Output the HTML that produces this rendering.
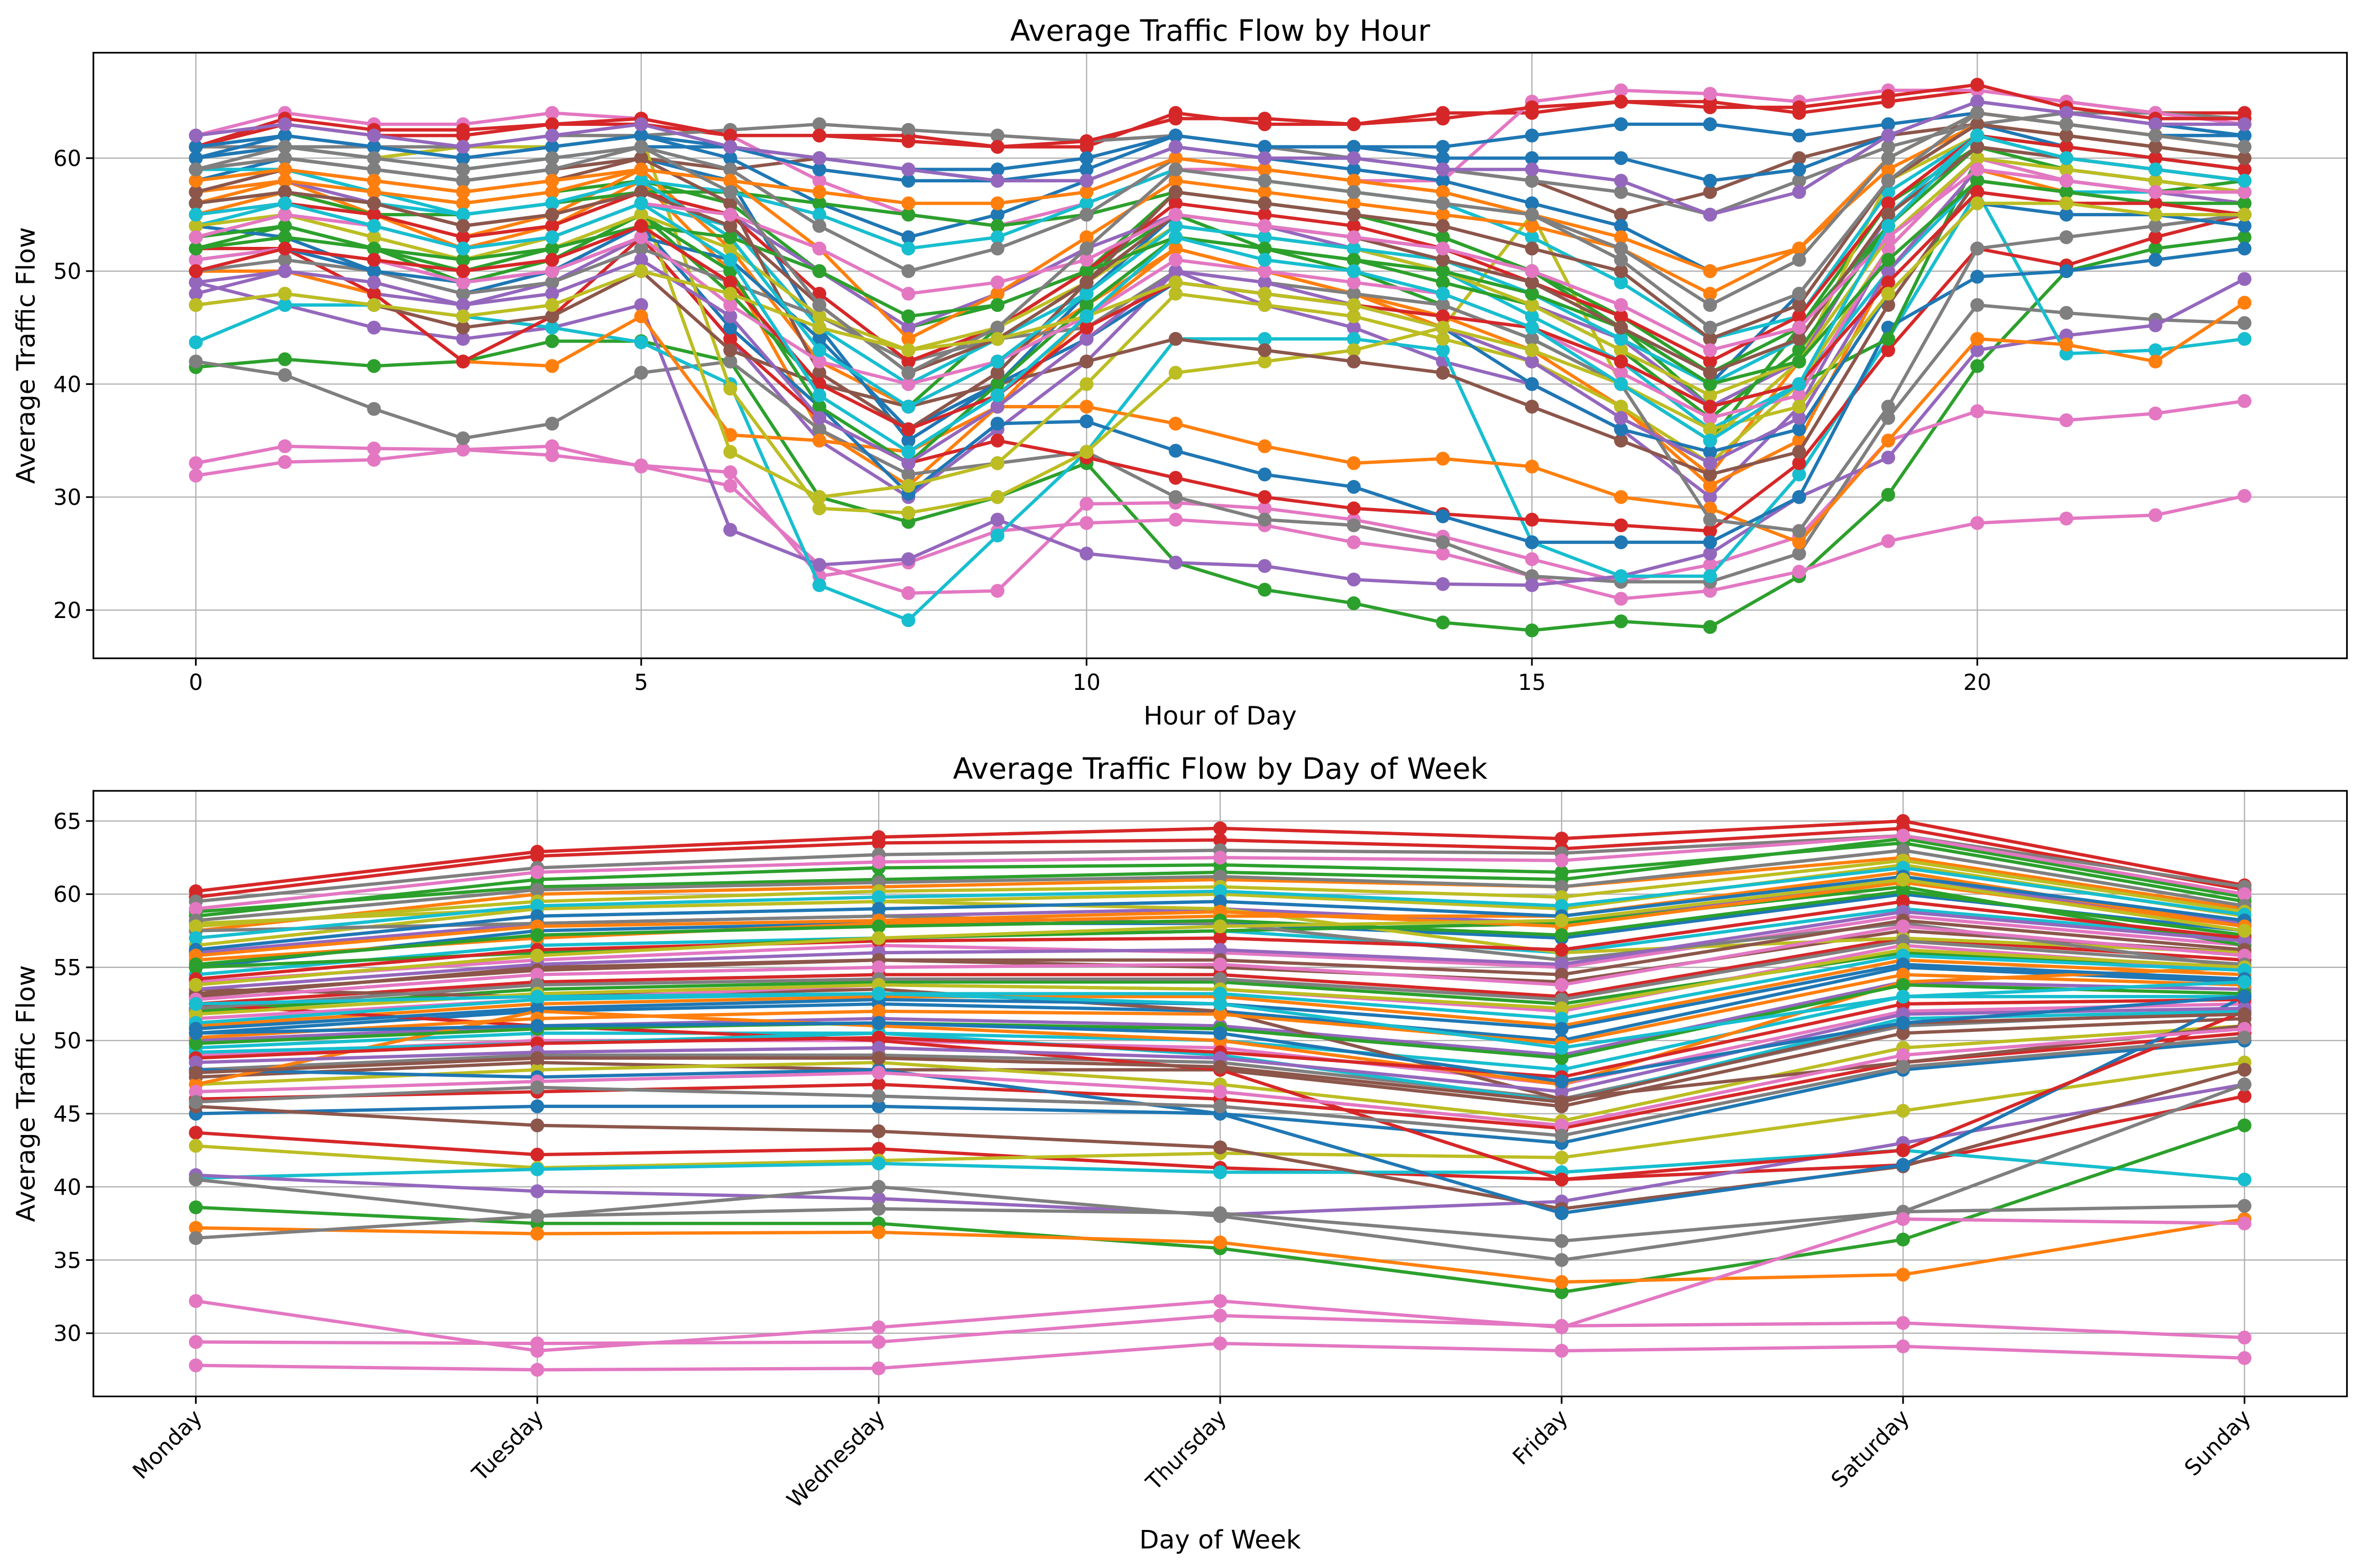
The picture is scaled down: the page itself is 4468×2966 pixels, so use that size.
<!DOCTYPE html>
<html><head><meta charset="utf-8"><style>
html,body{margin:0;padding:0;background:#fff;}
svg{display:block;font-family:"DejaVu Sans","Liberation Sans",sans-serif;}
</style></head><body>
<svg id="chart" width="4468" height="2966" viewBox="0 0 1568 1040.9" preserveAspectRatio="none" xmlns="http://www.w3.org/2000/svg">
<rect x="0" y="0" width="1568" height="1041" fill="#fff"/>
<g id="top"></g>
<g id="bot"></g>
</svg>
<script>
const hours = [0,1,2,3,4,5,6,7,8,9,10,11,12,13,14,15,16,17,18,19,20,21,22,23];
const hourTicks = [0,5,10,15,20];
const hourYTicks = [20,30,40,50,60];
const hourlySeries = [
[61,63,62,62,63,63,62,62,62,61,61,64,63,63,64,64,65,65,64,65,66,65,64,64],
[58,60,59,58,59,60,58,45,35,40,48,55,54,53,52,50,45,40,48,58,63,61,60,59],
[55,57,55,52,54,58,50,36,31,38,46,52,50,48,45,42,38,32,42,55,62,60,59,58],
[52,54,52,49,51,55,48,40,38,45,50,55,52,50,47,44,40,35,45,56,61,59,58,57],
[48,50,48,47,49,53,44,35,30,36,42,50,47,45,42,40,36,30,38,52,60,58,57,56],
[41.5,42.2,41.6,42,43.8,43.8,42,30,27.8,30,33,24.2,21.8,20.6,18.9,18.2,19,18.5,23,30.2,41.6,50,52,53],
[33,34.5,34.3,34.2,34.5,32.7,31,24,21.5,21.7,29.4,29.5,29,28,26.5,24.5,22.5,24,26.5,35,37.6,36.8,37.4,38.5],
[31.9,33.1,33.3,34.2,33.7,32.8,32.2,23,24.2,27,27.7,28,27.5,26,25,23,21,21.7,23.4,26.1,27.7,28.1,28.4,30.1],
[42,40.8,37.8,35.2,36.5,41,42,36,32,33,34,30,28,27.5,26,23,22.5,22.5,25,37,47,46.3,45.7,45.4],
[49,47,45,44,45,47,27.1,24,24.5,28,25,24.2,23.9,22.7,22.3,22.2,23,25,30,33.5,43,44.3,45.2,49.3],
[43.7,47,47,46,45,43.7,40,22.2,19.1,26.6,34,44,44,44,43,26,23,23,32,44,57,42.7,43,44],
[50,50,48,42,41.6,46,35.5,35,34,38,38,36.5,34.5,33,33.4,32.7,30,29,26,35,44,43.5,42,47.2],
[52,52,48,42,46,53,44,37,33,35,33.5,31.7,30,29,28.5,28,27.5,27,33,43,52,50.5,53,55],
[54,53,50,48,50,54,45,38,30.3,36.5,36.7,34.1,32,30.9,28.3,26,26,26,30,45,49.5,50,51,52],
[59,60,59,58,59,60,59,60,59,58,58,61,60,60,59,58,55,57,60,62,63,62,61,60],
[60,61,60,61,61,62,39.6,29,28.6,30,34,41,42,43,45,55,40,35,42,58,62,60,59,58],
[58,59,57,56,57,58,56,50,45,47,50,57,56,55,53,50,45,38,40,44,60,58,57,58],
[61,61,61,61,62,62,62.5,63,62.5,62,61.5,62,61,60,59,58,57,55,58,61,63,64,64,63.5],
[62,64,63,63,64,63.5,62,58,55,54,56,59,59,58,58,65,66,65.7,65,66,66,65,64,63],
[54,56,54,52,53,56,54,45,40,44,48,54,53,52,50,46,42,36,40,50,58,57,57,56],
[56,58,55,53,55,59,52,42,38,42,47,52,50,48,46,43,38,31,35,50,59,57,56,55],
[57,58,56,54,55,57,55,50,45,48,52,55,54,52,50,47,44,38,42,55,61,60,59,58],
[60,62,61,60,61,62,60,56,53,55,58,61,60,59,58,56,54,50,52,60,64,63,62,62],
[61,63.5,62.5,62.5,63,63.5,62,62,61.5,61,61.5,63.5,63.5,63,63.5,64.5,65,64.5,64.5,65.5,66.5,64.5,63.5,63.5],
[56,57,55,55,56,57,57,56,55,54,55,57,56,55,53,50,46,41,45,54,62,61,60,59],
[53,55,53,51,53,56,34,30,31,33,40,48,47,46,44,42,38,33,40,52,60,58,57,56],
[47,48,47,45,46,50,43,40,38,40,42,44,43,42,41,38,35,32,34,47,58,57,56,55],
[50,51,50,48,49,52,49,46,42,44,45,50,49,48,47,44,40,28,27,38,52,53,54,55],
[59,59,57,55,56,58,57,55,52,53,56,59,58,57,56,53,49,44,46,57,62,61,60,59],
[51,52,50,49,50,53,51,44,36,40,44,49,48,47,45,40,36,34,36,48,56,55,55,54],
[60,61,60,59,60,61,61,60,59,59,60,62,61,61,61,62,63,63,62,63,64,63,62,62],
[57,58,57,56,57,59,58,52,44,48,53,58,57,56,55,54,52,48,52,59,63,62,61,60],
[53,54,52,50,52,55,50,38,33,40,47,53,52,51,49,47,43,37,43,54,61,59,58,57],
[55,56,55,53,54,57,55,48,42,45,50,56,55,54,52,49,46,42,46,56,62,61,60,59],
[49,50,49,47,48,51,46,37,33,38,44,50,49,47,45,42,37,33,37,50,59,58,57,56],
[57,59,58,57,58,60,56,41,36,41,49,57,56,55,54,52,50,44,47,58,63,62,61,60],
[51,52,51,49,50,53,47,42,40,42,46,51,50,49,48,45,41,37,39,52,60,58,57,57],
[59,60,59,58,59,61,59,54,50,52,55,60,59,58,57,55,51,45,48,58,64,63,62,61],
[54,55,53,51,52,55,52,46,43,45,49,54,53,52,50,47,43,39,42,53,60,59,58,57],
[56,57,56,55,56,58,53,43,38,42,48,54,53,52,51,48,44,40,44,55,62,60,59,58],
[61,62,61,60,61,62,61,59,58,58,59,62,61,61,60,60,60,58,59,62,65,64,63,62],
[58,59,58,57,58,59,58,57,56,56,57,60,59,58,57,55,53,50,52,60,64,63,62,61],
[52,53,52,51,52,54,53,50,46,47,50,53,52,51,50,48,45,40,42,51,58,57,56,56],
[50,52,51,50,51,54,49,40,36,39,45,49,48,47,46,45,42,38,40,49,57,56,56,55],
[62,63,62,61,62,63,61,60,59,58,58,61,60,60,59,59,58,55,57,62,65,64,63,63],
[56,57,56,54,55,57,54,47,41,44,49,55,54,53,51,49,45,41,44,55,61,60,59,58],
[53,55,54,52,53,56,55,52,48,49,51,55,54,53,52,50,47,43,45,53,59,58,57,57],
[59,61,60,59,60,61,57,47,41,45,52,59,58,57,56,55,52,47,51,60,64,63,62,61],
[47,48,47,46,47,50,48,45,43,44,46,49,48,47,45,43,40,36,38,48,56,56,55,55],
[55,56,54,52,53,56,51,39,34,39,46,53,51,50,48,45,40,35,40,54,62,60,59,58]
];
const hourlyColors = ['#d62728','#1f77b4','#ff7f0e','#2ca02c','#9467bd','#2ca02c','#e377c2','#e377c2','#7f7f7f','#9467bd','#17becf','#ff7f0e','#d62728','#1f77b4','#8c564b','#bcbd22','#2ca02c','#7f7f7f','#e377c2','#17becf','#ff7f0e','#9467bd','#1f77b4','#d62728','#2ca02c','#bcbd22','#8c564b','#7f7f7f','#17becf','#1f77b4'];

const days = ['Monday','Tuesday','Wednesday','Thursday','Friday','Saturday','Sunday'];
const dayYTicks = [30,35,40,45,50,55,60,65];
const weeklySeries = [
[60.2,62.9,63.9,64.5,63.8,65,60.6],
[59.8,62.6,63.5,63.7,63.1,64.5,60.3],
[59.5,61.8,62.7,63.0,62.8,64,60.5],
[58.5,61,61.8,62,61.5,63.5,59.5],
[57.5,60,60.5,61,60.5,62.5,59],
[56.5,59,59.5,60,59,62,58.5],
[56,58,58.5,59,58,61,58],
[55,57.5,58,58,57,60,57.5],
[54.5,56.5,57,57.5,56,59,57],
[54,55.5,56.5,56,55,58.5,56.5],
[53,55,55.5,55,54,57.5,56],
[52.5,54,54.5,54.5,53,57,55.5],
[52,53.5,54,54,52.5,56,55],
[51,52.5,53,53,51,55.5,54.5],
[50.5,52,52.5,52,50,55,54],
[50,51,51.5,51,49,54,53.5],
[49.5,50.5,50.5,50,48,53,53],
[49,50,50,49.5,47,52,52.5],
[48,49,49,48.5,46,51,52],
[47.5,48.5,48,48,45.5,50.5,51.5],
[47,48,48.5,47,44.5,49.5,51],
[46,46.5,47,46,44,48.5,50.5],
[45,45.5,45.5,45,43,48,50],
[43.7,42.2,42.6,41.3,40.5,41.5,46.2],
[42.8,41.3,41.8,42.3,42,45.2,48.5],
[40.6,41.2,41.6,41,41,42.5,40.5],
[40.8,39.7,39.2,38.1,39,43,47],
[38.6,37.5,37.5,35.8,32.8,36.4,44.2],
[37.2,36.8,36.9,36.2,33.5,34,37.8],
[36.5,38,38.5,38.2,36.3,38.3,38.7],
[40.5,38,40,38,35,38.3,47],
[45.5,44.2,43.8,42.7,38.5,41.4,48],
[32.2,28.8,30.4,32.2,30.4,37.8,37.5],
[29.4,29.3,29.4,31.2,30.5,30.7,29.7],
[27.8,27.5,27.6,29.3,28.8,29.1,28.3],
[48,47.5,48,45,38.2,41.5,53],
[52.5,51,50,48,40.5,42.5,52],
[58,59,59.5,59,56,57,56],
[55,56,57,57.5,58,60.5,56.5],
[53.5,53,53.5,52,46,48.5,51],
[47,52,51,50,47,54,55],
[57.5,58,58.5,58,55.5,58,55],
[58.8,60.5,61,61.5,61,63.8,59.8],
[55.5,57,58,58.5,58.5,61.5,57.8],
[51.5,52.8,53.8,53.5,52,56.5,54.8],
[49.2,49.8,50.5,49,45.8,51.5,52],
[59,61.5,62.2,62.5,62.3,64,60],
[58.2,60.3,60.8,61.2,60.5,63,59.2],
[57.8,59.5,60.2,60.5,59.8,62.3,58.8],
[57,59.2,59.8,60.2,59.2,61.8,58.6],
[56.2,58.5,59,59.5,58.5,61.2,58.2],
[55.8,57.8,58.2,58.8,57.8,60.8,57.8],
[55.2,57.2,57.8,58.2,57.2,60.2,57.2],
[54.2,56.2,56.8,57,56.2,59.5,57],
[53.5,55.2,56,56.2,55.2,58.8,56.8],
[53.2,54.8,55.5,55.5,54.5,58.2,56.2],
[52.8,54.5,55,55.2,53.8,57.8,55.8],
[52.2,53.8,54.2,54.2,52.8,56.8,55.2],
[51.8,53.2,53.8,53.5,52.2,56.2,55],
[51.2,52.8,53.2,53.2,51.5,55.8,54.8],
[50.8,52.2,52.8,52.5,50.8,55.2,54.2],
[50.2,51.5,52,51.8,49.8,54.5,53.8],
[49.8,50.8,51.2,50.8,48.8,53.8,53.2],
[48.8,49.8,50.2,49.2,47.5,52.5,52.8],
[48.5,49.2,49.5,48.8,46.5,51.8,52.2],
[47.8,48.8,48.8,48.2,45.8,51.2,51.8],
[46.5,47.2,47.8,46.5,44.2,49,50.8],
[45.8,46.8,46.2,45.5,43.5,48.2,50.2],
[53.8,55.8,57,57.8,58.2,61,57.5],
[52.5,53,53.2,52.5,49.5,53,54],
[50.5,51,51.2,50.5,47.2,51.2,53]
];
const weeklyColors = ['#d62728','#d62728','#7f7f7f','#2ca02c','#ff7f0e','#bcbd22','#9467bd','#1f77b4','#17becf','#e377c2','#8c564b','#d62728','#2ca02c','#ff7f0e','#1f77b4','#9467bd','#17becf','#e377c2','#7f7f7f','#8c564b','#bcbd22','#d62728','#1f77b4','#d62728','#bcbd22','#17becf','#9467bd','#2ca02c','#ff7f0e','#7f7f7f','#7f7f7f','#8c564b','#e377c2','#e377c2','#e377c2','#1f77b4','#d62728','#bcbd22','#2ca02c','#8c564b','#ff7f0e','#7f7f7f','#2ca02c','#ff7f0e','#e377c2','#17becf'];
const tab10 = ['#1f77b4','#ff7f0e','#2ca02c','#d62728','#9467bd','#8c564b','#e377c2','#7f7f7f','#bcbd22','#17becf'];

const NS='http://www.w3.org/2000/svg';
function mk(parent,tag,attrs){const e=document.createElementNS(NS,tag);for(const k in attrs)e.setAttribute(k,attrs[k]);parent.appendChild(e);return e;}

function panel(g,box,xmin,xmax,ymin,ymax,xTicks,xLabels,yTicks,series,colors,title,xTitle,rotate){
  const X=v=>box.l+(v-xmin)/(xmax-xmin)*(box.r-box.l);
  const Y=v=>box.b-(v-ymin)/(ymax-ymin)*(box.b-box.t);
  xTicks.forEach(t=>{const l=mk(g,'line',{x1:X(t),x2:X(t),y1:box.t,y2:box.b,stroke:'#b0b0b0','stroke-width':0.8});
    
    });
  yTicks.forEach(t=>{const l=mk(g,'line',{x1:box.l,x2:box.r,y1:Y(t),y2:Y(t),stroke:'#b0b0b0','stroke-width':0.8});
    
    });
  series.forEach((s,si)=>{
    const col=colors[si]||tab10[si%10];
    const sg=mk(g,'g',{});
    
    
    const pts=s.map((v,i)=>X(i)+','+Y(v)).join(' ');
    mk(sg,'polyline',{points:pts,fill:'none',stroke:col,'stroke-width':2.2,'stroke-linejoin':'round'});
    s.forEach((v,i)=>{const c=mk(sg,'circle',{cx:X(i),cy:Y(v),r:4.6,fill:col});
      
      });
  });
  const f=mk(g,'rect',{x:box.l,y:box.t,width:box.r-box.l,height:box.b-box.t,fill:'none',stroke:'#000','stroke-width':1.1});
  
  
  xTicks.forEach((t,i)=>{mk(g,'line',{x1:X(t),x2:X(t),y1:box.b,y2:box.b+4.9,stroke:'#000','stroke-width':1.1});
    let tx;
    if(rotate){tx=mk(g,'text',{x:X(t)+5,y:box.b+15,'font-size':14.6,'text-anchor':'end',transform:'rotate(-45 '+(X(t)+5)+' '+(box.b+15)+')'});}
    else{tx=mk(g,'text',{x:X(t),y:box.b+21,'font-size':14.6,'text-anchor':'middle'});}
    tx.textContent=xLabels[i];
    
    });
  yTicks.forEach(t=>{mk(g,'line',{x1:box.l-4.9,x2:box.l,y1:Y(t),y2:Y(t),stroke:'#000','stroke-width':1.1});
    const tx=mk(g,'text',{x:box.l-8,y:Y(t)+5.2,'font-size':14.6,'text-anchor':'end'});
    tx.textContent=t;
    
    });
  const tt=mk(g,'text',{x:(box.l+box.r)/2,y:box.t-8,'font-size':19.5,'text-anchor':'middle'});tt.textContent=title;
  
  
  const xt=mk(g,'text',{x:(box.l+box.r)/2,y:rotate?box.b+101:box.b+44,'font-size':17,'text-anchor':'middle'});xt.textContent=xTitle;
  
  
  const cy=(box.t+box.b)/2;
  const yt=mk(g,'text',{x:23,y:cy,'font-size':17,'text-anchor':'middle',transform:'rotate(-90 23 '+cy+')'});yt.textContent='Average Traffic Flow';
  
  
}
const topBox={l:62,r:1558,t:35,b:437};
panel(document.getElementById('top'),topBox,-1.15,24.15,15.73,69.33,hourTicks,hourTicks.map(String),hourYTicks,hourlySeries,hourlyColors,'Average Traffic Flow by Hour','Hour of Day',false);
const botBox={l:62,r:1558,t:525,b:927};
panel(document.getElementById('bot'),botBox,-0.3,6.3,25.68,67.06,days.map((d,i)=>i),days,dayYTicks,weeklySeries,weeklyColors,'Average Traffic Flow by Day of Week','Day of Week',true);
</script>
</body></html>
